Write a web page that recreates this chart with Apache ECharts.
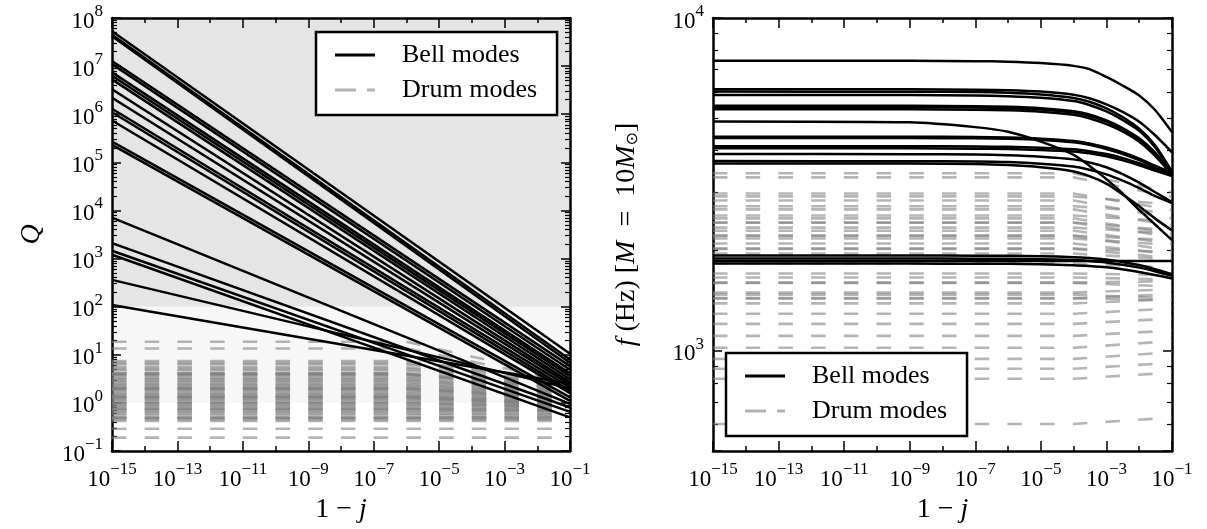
<!DOCTYPE html>
<html><head><meta charset="utf-8">
<script src="https://cdn.jsdelivr.net/npm/echarts@6/dist/echarts.min.js"></script>
<style>html,body{margin:0;padding:0;background:#fff}#c{width:1207px;height:529px}</style>
</head><body><div id="c"></div>
<script>
// ---------------- DATA ----------------
const X_MIN = 1e-15, X_MAX = 1e-1;
const X_LABELED = [1e-15, 1e-13, 1e-11, 1e-9, 1e-7, 1e-5, 1e-3, 1e-1];
const X_UNLABELED = [1e-14, 1e-12, 1e-10, 1e-8, 1e-6, 1e-4, 1e-2];
const Q_MIN = 0.1, Q_MAX = 1e8;
const F_MIN = 500, F_MAX = 1e4;
const Q_BAND_EDGES = [1, 100, 1e8];

// Left panel: bell modes, Q at 1-j = 1e-15 and 1e-1
const BELL_L_X = [1e-15, 1e-1];
const BELL_L = [
  [5.3e7, 10.5], [4.5e7, 8.0], [4.2e7, 6.8], [1.28e7, 5.8], [1.1e7, 4.9],
  [7.4e6, 4.1], [6.3e6, 3.6], [5.3e6, 3.1], [3.3e6, 2.7], [2.2e6, 2.4],
  [1.3e6, 2.1], [1.1e6, 1.8], [7.4e5, 1.6], [2.7e5, 1.3], [2.3e5, 1.1],
  [7.1e3, 0.95], [2.1e3, 0.8], [1.45e3, 0.65], [1.2e3, 0.5], [360, 2.0], [108, 2.5]
];
// Left panel: drum modes
const DRUM_L_X = [1e-15, 1e-6, 1e-1];
const DRUM_L_START = [18.6, 13.5, 7.4, 6.8, 6.3, 5.5, 5.1, 4.7, 4.1, 4.05, 4.0, 3.8, 3.6, 3.3, 3.1, 2.9, 2.7, 2.5, 2.35, 2.2, 2.05, 2.0, 1.98, 1.85, 1.75, 1.6, 1.5, 1.42, 1.34, 1.32, 1.3, 1.22, 1.15, 1.07, 1.0, 0.98, 0.92, 0.86, 0.8, 0.76, 0.74, 0.7, 0.65, 0.6, 0.56, 0.5, 0.49, 0.48, 0.45, 0.42, 0.29, 0.19];
const DRUM_L_END   = [3.2, 2.8, 3.0, 2.9, 2.6, 2.4, 2.5, 2.2, 2.0, 2.3, 1.9, 2.1, 1.8, 1.7, 1.6, 1.65, 1.5, 1.45, 1.4, 1.35, 1.25, 1.3, 1.2, 1.18, 1.15, 1.1, 1.05, 1.0, 0.95, 1.0, 0.92, 0.9, 0.9, 0.85, 0.8, 0.85, 0.8, 0.75, 0.72, 0.68, 0.7, 0.66, 0.62, 0.58, 0.55, 0.5, 0.52, 0.47, 0.45, 0.42, 0.29, 0.19];

// Right panel: bell modes, f (Hz)
const BELL_R_X = [1e-15, 1e-9, 1e-7, 1e-6, 1e-5, 1e-4, 3e-4, 1e-3, 3e-3, 1e-2, 3e-2, 1e-1];
const BELL_R = [
  [7440, 7440, 7420, 7390, 7320, 7180, 7020, 6650, 6280, 5850, 5300, 4540],
  [6110, 6105, 6090, 6070, 6010, 5880, 5740, 5500, 5230, 4880, 4450, 3950],
  [6010, 6005, 5990, 5960, 5890, 5750, 5600, 5350, 5050, 4650, 4150, 3450],
  [5870, 5865, 5850, 5820, 5760, 5630, 5480, 5240, 4950, 4580, 4100, 3430],
  [5450, 5445, 5430, 5410, 5360, 5250, 5130, 4920, 4680, 4350, 3950, 3420],
  [5400, 5395, 5380, 5360, 5310, 5200, 5080, 4880, 4640, 4310, 3910, 3400],
  [5320, 5315, 5300, 5280, 5230, 5120, 5000, 4800, 4570, 4250, 3860, 3380],
  [4890, 4860, 4700, 4550, 4250, 3880, 3600, 3280, 2980, 2650, 2400, 2150],
  [4400, 4398, 4390, 4375, 4340, 4270, 4200, 4080, 3950, 3780, 3600, 3430],
  [4360, 4358, 4350, 4335, 4300, 4230, 4160, 4040, 3910, 3740, 3570, 3400],
  [4120, 4118, 4110, 4100, 4075, 4030, 3980, 3900, 3800, 3660, 3520, 3380],
  [4060, 4058, 4050, 4040, 4015, 3970, 3920, 3840, 3740, 3610, 3480, 3350],
  [3900, 3898, 3890, 3870, 3830, 3760, 3680, 3560, 3400, 3200, 3000, 2800],
  [3715, 3713, 3705, 3690, 3650, 3580, 3500, 3390, 3250, 3080, 2920, 2780],
  [3657, 3652, 3640, 3615, 3560, 3460, 3350, 3180, 2960, 2720, 2500, 2300],
  [1933, 1933, 1932, 1930, 1925, 1912, 1900, 1880, 1850, 1810, 1760, 1700],
  [1893, 1893, 1892, 1890, 1885, 1873, 1862, 1843, 1815, 1778, 1735, 1680],
  [1862, 1862, 1862, 1862, 1862, 1862, 1862, 1862, 1862, 1862, 1862, 1862],
  [1828, 1828, 1827, 1825, 1820, 1809, 1798, 1782, 1758, 1725, 1690, 1650]
];
// Right panel: drum modes
const DRUM_R_X = [1e-15, 1e-4, 1e-1];
const DRUM_R_START = [3415, 3320, 2970, 2910, 2830, 2720, 2660, 2550, 2500, 2430, 2425, 2345, 2295, 2220, 2215, 2175, 2100, 2030, 2025, 1960, 1830, 1707, 1660, 1603, 1600, 1496, 1475, 1436, 1440, 1388, 1292, 1205, 1109, 1021, 946, 883, 824, 603];
const DRUM_R_END   = [3000, 2900, 2650, 2750, 2500, 2600, 2380, 2450, 2250, 2300, 2200, 2250, 2100, 2150, 2000, 2080, 1950, 1980, 1900, 1880, 1780, 1690, 1640, 1620, 1560, 1530, 1440, 1480, 1420, 1430, 1340, 1250, 1150, 1070, 990, 920, 860, 630];

// ---------------- STYLE ----------------
const FONT = 'Liberation Serif';
const BLACK = '#000';
const DRUM_COLOR = 'rgba(128,128,128,0.58)';
const DRUM_DASH = [14.5, 18.21];
const POW_RICH = {
  b: {fontFamily: FONT, fontSize: 23, lineHeight: 30, verticalAlign: 'bottom', color: BLACK},
  s: {fontFamily: FONT, fontSize: 17, lineHeight: 17, verticalAlign: 'top', color: BLACK}
};
function fmtPow(v) {
  const l = Math.log10(v), e = Math.round(l);
  if (Math.abs(l - e) > 1e-6) return '';
  return '{b|10}{s|' + (e < 0 ? '\u2212' + (-e) : String(e)) + '}';
}
const NAME_RICH = {
  r: {fontFamily: FONT, fontSize: 28, color: BLACK},
  i: {fontFamily: FONT, fontSize: 28, fontStyle: 'italic', color: BLACK},
  sub: {fontFamily: 'DejaVu Sans', fontSize: 16, color: BLACK, verticalAlign: 'bottom', lineHeight: 22}
};

function xMain(g, pos, labels) {
  return {
    type: 'log', gridIndex: g, position: pos, min: X_MIN, max: X_MAX,
    axisLine: {show: true, onZero: false, lineStyle: {color: BLACK, width: 2.5}},
    axisTick: {show: true, inside: true, length: 10, customValues: X_LABELED, lineStyle: {color: BLACK, width: 1.5}},
    minorTick: {show: false}, splitLine: {show: false},
    axisLabel: labels ? {show: true, customValues: X_LABELED, formatter: fmtPow, margin: 10, rich: POW_RICH,
      fontFamily: FONT, fontSize: 23, color: BLACK, hideOverlap: false} : {show: false},
    name: labels ? '{r|1 \u2212 }{i|j}' : '', nameLocation: 'middle', nameGap: 44,
    nameTextStyle: {rich: NAME_RICH, fontFamily: FONT, fontSize: 28}
  };
}
function xMinor(g, pos) {
  return {
    type: 'log', gridIndex: g, position: pos, min: X_MIN, max: X_MAX,
    axisLine: {show: false},
    axisTick: {show: true, inside: true, length: 5, customValues: X_UNLABELED, lineStyle: {color: BLACK, width: 1.5}},
    minorTick: {show: false}, splitLine: {show: false}, axisLabel: {show: false}
  };
}
function yAx(g, pos, min, max, labels, name, nameGap) {
  return {
    type: 'log', gridIndex: g, position: pos, min: min, max: max,
    axisLine: {show: true, onZero: false, lineStyle: {color: BLACK, width: 2.5}},
    axisTick: {show: true, inside: true, length: 9, lineStyle: {color: BLACK, width: 1.5}},
    minorTick: {show: true, splitNumber: 9, length: 5, lineStyle: {color: BLACK, width: 1.2}},
    splitLine: {show: false}, minorSplitLine: {show: false},
    axisLabel: labels ? {show: true, formatter: fmtPow, margin: 9, rich: POW_RICH, fontFamily: FONT, fontSize: 23, color: BLACK,
      showMinLabel: true, showMaxLabel: true} : {show: false},
    name: name || '', nameLocation: 'middle', nameGap: nameGap || 0,
    nameTextStyle: {rich: NAME_RICH, fontFamily: FONT, fontSize: 28}
  };
}
function yHidden(g, min, max) {
  return {type: 'log', gridIndex: g, min: min, max: max, show: false};
}

const series = [];
series.push({
  name: 'bands', type: 'line', xAxisIndex: 0, yAxisIndex: 0, data: [], z: 0, silent: true,
  markArea: {silent: true, z: 0, data: [
    [{yAxis: Q_BAND_EDGES[1], itemStyle: {color: '#e5e5e5'}}, {yAxis: Q_BAND_EDGES[2]}],
    [{yAxis: Q_BAND_EDGES[0], itemStyle: {color: '#f7f7f7'}}, {yAxis: Q_BAND_EDGES[1]}]
  ]}
});
function drumSeries(xs, starts, ends, xi, yi) {
  starts.forEach((v, k) => {
    series.push({
      name: 'Drum modes', type: 'line', xAxisIndex: xi, yAxisIndex: yi, symbol: 'none', silent: true, z: 2,
      data: [[xs[0], v], [xs[1], v], [xs[2], ends[k]]],
      itemStyle: {color: '#b3b3b3'},
      lineStyle: {color: DRUM_COLOR, width: 2.6, type: DRUM_DASH, cap: 'butt'}
    });
  });
}
drumSeries(DRUM_L_X, DRUM_L_START, DRUM_L_END, 0, 0);
drumSeries(DRUM_R_X, DRUM_R_START, DRUM_R_END, 4, 3);
BELL_L.forEach(v => series.push({
  name: 'Bell modes', type: 'line', xAxisIndex: 0, yAxisIndex: 0, symbol: 'none', silent: true, z: 4,
  itemStyle: {color: BLACK},
  data: BELL_L_X.map((x, i) => [x, v[i]]), lineStyle: {color: BLACK, width: 2.5}
}));
BELL_R.forEach(v => series.push({
  name: 'Bell modes', type: 'line', xAxisIndex: 4, yAxisIndex: 3, symbol: 'none', silent: true, z: 4,
  smooth: 0.25, itemStyle: {color: BLACK},
  data: BELL_R_X.map((x, i) => [x, v[i]]), lineStyle: {color: BLACK, width: 2.5}
}));
series.push({name: 'ov1', type: 'line', xAxisIndex: 2, yAxisIndex: 2, data: []});
series.push({name: 'ov2', type: 'line', xAxisIndex: 6, yAxisIndex: 5, data: []});

function legendAt(left, top) {
  return {
    left: left, top: top, orient: 'vertical', selectedMode: false,
    backgroundColor: '#fff', borderColor: BLACK, borderWidth: 2.5, borderRadius: 0,
    padding: [8, 20, 10, 19], itemGap: 5, itemWidth: 40, itemHeight: 3,
    textStyle: {fontFamily: FONT, fontSize: 26, color: BLACK, lineHeight: 30, padding: [0, 0, 0, 22]},
    data: [
      {name: 'Bell modes', icon: 'rect', itemStyle: {color: BLACK, borderWidth: 0}},
      {name: 'Drum modes', icon: 'path://M0,0h21v3h-21zM32,0h8v3h-8z', itemStyle: {color: '#b3b3b3', borderWidth: 0}}
    ],
    z: 20
  };
}

const option = {
  animation: false,
  backgroundColor: '#fff',
  grid: [
    {left: 112, top: 18, width: 458, height: 433},
    {left: 112, top: 18, width: 458, height: 433},
    {left: 713, top: 18, width: 459, height: 433},
    {left: 713, top: 18, width: 459, height: 433}
  ],
  xAxis: [
    xMain(0, 'bottom', true), xMain(0, 'top', false),
    xMinor(1, 'bottom'), xMinor(1, 'top'),
    xMain(2, 'bottom', true), xMain(2, 'top', false),
    xMinor(3, 'bottom'), xMinor(3, 'top')
  ],
  yAxis: [
    yAx(0, 'left', Q_MIN, Q_MAX, true, '{i|Q}', 66),
    yAx(0, 'right', Q_MIN, Q_MAX, false),
    yHidden(1, Q_MIN, Q_MAX),
    yAx(2, 'left', F_MIN, F_MAX, true, '{i|f}{r| (Hz) [}{i|M}{r|  =  10}{i|M}{sub|\u2299}{r|]}', 72),
    yAx(2, 'right', F_MIN, F_MAX, false),
    yHidden(3, F_MIN, F_MAX)
  ],
  legend: [legendAt(316, 32), legendAt(726, 353)],
  series: series
};
const chart = echarts.init(document.getElementById('c'), null, {renderer: 'canvas'});
chart.setOption(option);
</script></body></html>
